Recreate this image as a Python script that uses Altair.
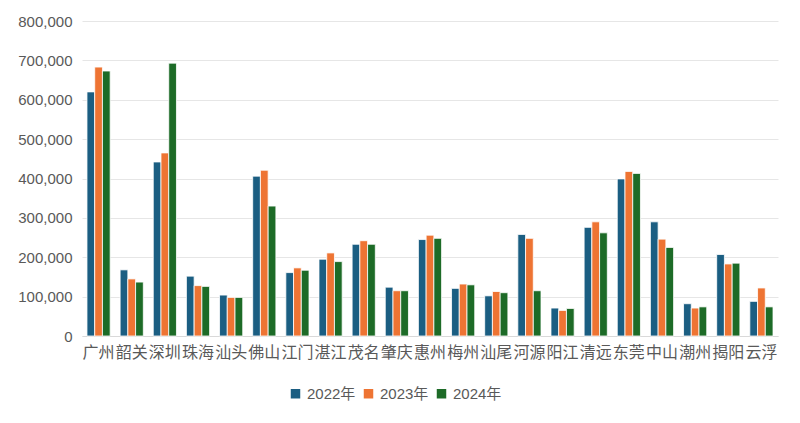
import altair as alt
import pandas as pd

cities = ["广州", "韶关", "深圳", "珠海", "汕头", "佛山", "江门", "湛江", "茂名", "肇庆", "惠州",
          "梅州", "汕尾", "河源", "阳江", "清远", "东莞", "中山", "潮州", "揭阳", "云浮"]
years = ["2022年", "2023年", "2024年"]
v2022 = [620000, 168000, 442000, 152000, 104000, 406000, 161000, 195000, 233000, 124000, 245000,
         121000, 102000, 258000, 71000, 276000, 399000, 290000, 82000, 207000, 88000]
v2023 = [683000, 145000, 465000, 128000, 98000, 421000, 173000, 211000, 242000, 115000, 256000,
         132000, 113000, 248000, 65000, 290000, 418000, 246000, 71000, 183000, 122000]
v2024 = [673000, 137000, 693000, 126000, 98000, 330000, 167000, 189000, 233000, 115000, 248000,
         130000, 110000, 115000, 70000, 262000, 413000, 225000, 74000, 185000, 74000]
colors = ["#1B5E82", "#EE7433", "#1D6B27"]

rows = []
for i, c in enumerate(cities):
    for y, vals in zip(years, [v2022, v2023, v2024]):
        rows.append({"city": c, "year": y, "value": vals[i]})
df = pd.DataFrame(rows)

font = "Liberation Sans, Noto Sans CJK SC"

chart = alt.Chart(df).mark_bar(stroke="white", strokeWidth=0.8).encode(
    x=alt.X("city:N", sort=cities, title=None,
            scale=alt.Scale(paddingInner=0.3, paddingOuter=0.15),
            axis=alt.Axis(labelAngle=0, labelFontSize=16, labelColor="#595959", ticks=False,
                          domainColor="#D9D9D9", labelPadding=8, labelFont="Noto Sans CJK SC")),
    xOffset=alt.XOffset("year:N", sort=years),
    y=alt.Y("value:Q", title=None,
            scale=alt.Scale(domain=[0, 800000]),
            axis=alt.Axis(values=list(range(0, 800001, 100000)), format=",.0f", labelFontSize=15,
                          labelColor="#595959", domain=False, ticks=False, gridColor="#E6E6E6",
                          labelPadding=10, labelFont=font)),
    color=alt.Color("year:N", sort=years, scale=alt.Scale(domain=years, range=colors),
                    legend=alt.Legend(orient="none", legendX=206, legendY=365, direction="horizontal",
                                      title=None, symbolType="square", symbolSize=90,
                                      labelFontSize=15, labelColor="#595959", labelFont=font,
                                      columnPadding=5, labelOffset=4, symbolStrokeWidth=0)),
).properties(
    width=696, height=315,
    autosize=alt.AutoSizeParams(type="none"),
    padding={"left": 74, "top": 13, "right": 6, "bottom": 79},
).configure_view(stroke=None)

chart.save("out.html", embed_options={"renderer": "svg", "actions": False})
